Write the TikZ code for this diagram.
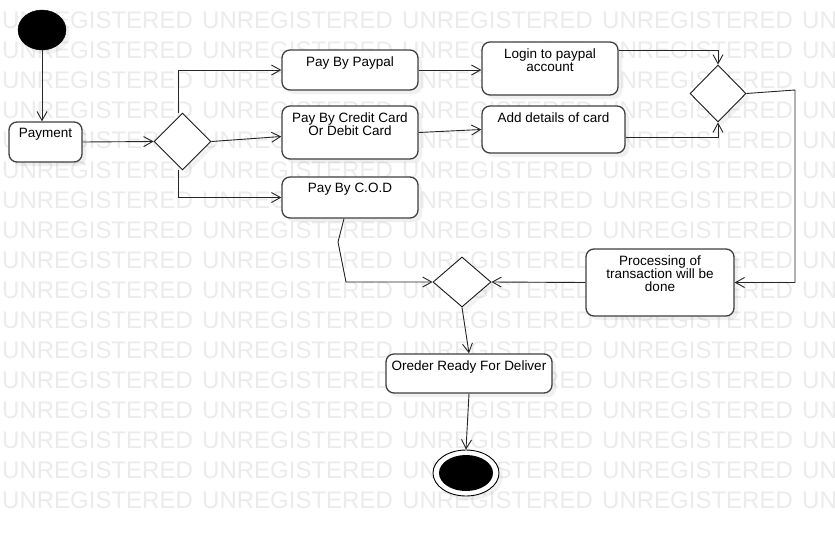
\documentclass[tikz,border=0pt]{standalone}
\usepackage{fontspec}
\setmainfont{Liberation Sans}
\usetikzlibrary{shapes.geometric, arrows.meta, shadows, positioning}

\tikzset{
	actBox/.style={
		draw=black!75,
		line width=1.3pt,
		rounded corners=8pt,
		fill=white,
		inner sep=0pt,
		drop shadow={shadow xshift=4pt, shadow yshift=-4pt, opacity=0.12}
	},
	actText/.style={
		anchor=north,
		align=center,
		inner sep=0pt,
		yshift=-7pt,
		text=black,
		font=\fontsize{13.5}{13}\selectfont
	},
	decision/.style={
		diamond,
		draw=black!90,
		line width=0.9pt,
		fill=white,
		inner sep=0pt,
		drop shadow={shadow xshift=4pt, shadow yshift=-4pt, opacity=0.1}
	},
	startDot/.style={
		ellipse, draw=black, fill=black, inner sep=0pt,
		minimum width=48, minimum height=40,
		drop shadow={shadow xshift=4pt, shadow yshift=-4pt, opacity=0.1}
	},
	endRing/.style={
		ellipse, draw=black, line width=0.9pt, fill=white, inner sep=0pt,
		minimum width=66, minimum height=46,
		drop shadow={shadow xshift=4pt, shadow yshift=-4pt, opacity=0.1}
	},
	endDot/.style={
		ellipse, fill=black, inner sep=0pt,
		minimum width=54, minimum height=36
	},
	flow/.style={
		draw=black!85,
		line width=0.9pt,
		-{Straight Barb[length=9pt,width=10pt]}
	},
	wmText/.style={
		anchor=west,
		inner sep=0pt,
		text=black!8,
		font=\fontsize{24}{24}\selectfont
	},
}

\begin{document}
\begin{tikzpicture}[x=1pt, y=-1pt]
\useasboundingbox (0,0) rectangle (835,536);
% watermark
\begin{scope}
	\clip (0,0) rectangle (835,536);
	\foreach \r in {0,...,16}
		\foreach \c in {0,...,4}
			\node[wmText] (wm-\r-\c) at (2+\c*200, 20+\r*30) {UNREGISTERED};
\end{scope}
% activities
\node[startDot] (start) at (42,30) {};
\node[actBox, minimum width=73, minimum height=40, label={[actText]north:Payment}] (payment) at (45.5,142) {};
\node[decision, minimum width=57, minimum height=57] (d1) at (182.5,141.5) {};
\node[actBox, minimum width=136, minimum height=40, label={[actText]north:Pay By Paypal}] (paypal) at (350,70) {};
\node[actBox, minimum width=136, minimum height=53, label={[actText]north:Pay By Credit Card\\Or Debit Card}] (credit) at (350,132.5) {};
\node[actBox, minimum width=136, minimum height=41, label={[actText]north:Pay By C.O.D}] (cod) at (350,197.5) {};
\node[actBox, minimum width=136, minimum height=53, label={[actText]north:Login to paypal\\account}] (login) at (550,68.5) {};
\node[actBox, minimum width=143, minimum height=47, label={[actText]north:Add details of card}] (add) at (553.5,129.5) {};
\node[decision, minimum width=56, minimum height=57] (d2) at (718,93.5) {};
\node[actBox, minimum width=148, minimum height=67, label={[actText]north:Processing of\\transaction will be\\done}] (proc) at (660,282.5) {};
\node[decision, minimum width=58, minimum height=50] (d3) at (462,282) {};
\node[actBox, minimum width=166, minimum height=39, label={[actText]north:Oreder Ready For Deliver}] (order) at (469,373.5) {};
\node[endRing] (end) at (466,473) {};
\node[endDot] (endIn) at (end.center) {};
% bends
\coordinate (bend) at (795,90);
\coordinate (kink1) at (338,242);
\coordinate (kink2) at (346,282);
% flows
\draw[flow] (start.south) -- (start.south |- payment.north);
\draw[flow] (payment.east) -- (d1.west);
\draw[flow] ([xshift=-4pt]d1.north) |- (paypal.west);
\draw[flow] (d1.east) -- ([yshift=-4pt]credit.west);
\draw[flow] ([xshift=-4pt]d1.south) |- (cod.west);
\draw[flow] (paypal.east) -- (paypal.east -| login.west);
\draw[flow] (credit.east) -- (add.west);
\draw[flow] ([yshift=18pt]login.east) -| (d2.north);
\draw[flow] ([yshift=-8pt]add.east) -| (d2.south);
\draw[flow] (d2.east) -- (bend) |- (proc.east);
\draw[flow] (proc.west) -- (d3.east);
\draw[flow] ([xshift=-6pt]cod.south) -- (kink1) -- (kink2) -- (d3.west);
\draw[flow] (d3.south) -- (order.north);
\draw[flow] (order.south) -- (end.north);
\end{tikzpicture}
\end{document}
